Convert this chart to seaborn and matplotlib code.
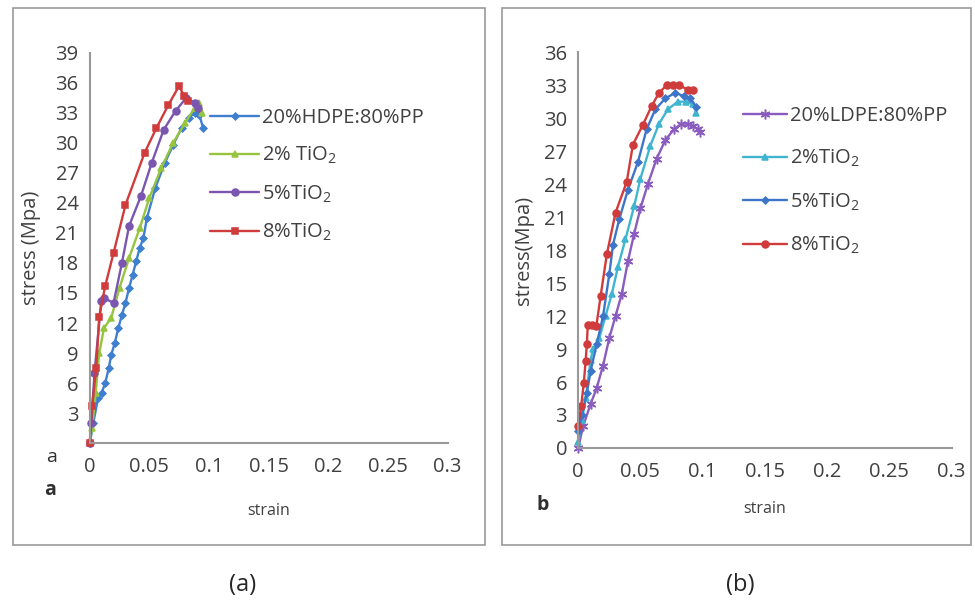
import numpy as np
import pandas as pd
import seaborn as sns
import matplotlib.pyplot as plt
from matplotlib.patches import Rectangle

# ---- panel (a): HDPE/PP blends ----
a_base_x = [0, 0.003, 0.007, 0.010, 0.013, 0.016, 0.018, 0.021, 0.024, 0.027, 0.030, 0.033,
            0.036, 0.039, 0.042, 0.045, 0.048, 0.055, 0.063, 0.070, 0.077, 0.083, 0.088, 0.092, 0.095]
a_base_y = [0, 2, 4.5, 5, 6, 7.5, 8.8, 10, 11.5, 12.8, 14, 15.5,
            16.8, 18.2, 19.5, 20.5, 22.5, 25.5, 28, 29.8, 31.5, 32.5, 33, 32.8, 31.5]
a_ti2_x = [0, 0.002, 0.005, 0.008, 0.012, 0.018, 0.025, 0.033, 0.042, 0.050, 0.060, 0.070, 0.080, 0.088, 0.092, 0.094]
a_ti2_y = [0, 1.5, 5, 9, 11.5, 12.5, 15.5, 18.5, 21.5, 24.5, 27.5, 30, 32, 33.5, 34, 33]
a_ti5_x = [0, 0.0014, 0.004, 0.0097, 0.012, 0.020, 0.027, 0.033, 0.043, 0.052, 0.062, 0.072, 0.081, 0.088, 0.091]
a_ti5_y = [0, 2, 7, 14.2, 14.5, 14, 18, 21.7, 24.7, 28, 31.3, 33.2, 34.5, 34, 33.5]
a_ti8_x = [0, 0.002, 0.0055, 0.008, 0.008, 0.013, 0.020, 0.030, 0.046, 0.056, 0.066, 0.075, 0.079, 0.082]
a_ti8_y = [0, 3.7, 7.5, 11.8, 13.5, 15.7, 19, 23.8, 29, 31.5, 33.8, 35.7, 34.7, 34.2]

# ---- panel (b): LDPE/PP blends ----
b_base_x = [0, 0.004, 0.010, 0.015, 0.020, 0.025, 0.030, 0.035, 0.040, 0.045, 0.050, 0.056,
            0.063, 0.070, 0.077, 0.083, 0.088, 0.092, 0.096, 0.098]
b_base_y = [0, 2, 4, 5.5, 7.5, 10, 12, 14, 17, 19.5, 21.8, 24,
            26.3, 28, 29, 29.5, 29.5, 29.3, 29, 28.7]
b_ti2_x = [0, 0.003, 0.006, 0.010, 0.012, 0.017, 0.022, 0.027, 0.032, 0.038, 0.045, 0.050,
           0.058, 0.065, 0.072, 0.080, 0.087, 0.092, 0.095]
b_ti2_y = [0.5, 2.5, 4.5, 8, 9, 10, 12, 14, 16.5, 19, 22, 24.5,
           27.5, 29.5, 30.8, 31.5, 31.5, 31.3, 30.5]
b_ti5_x = [0, 0.003, 0.007, 0.010, 0.015, 0.020, 0.025, 0.028, 0.033, 0.040, 0.048, 0.055,
           0.062, 0.070, 0.078, 0.085, 0.090, 0.095]
b_ti5_y = [1.5, 3, 5, 7, 9.5, 12, 15.8, 18.5, 20.8, 23.5, 26, 29,
           30.8, 31.8, 32.3, 32, 31.8, 31]
b_ti8_x = [0, 0.0024, 0.0045, 0.006, 0.007, 0.0077, 0.011, 0.0146, 0.018, 0.023, 0.030, 0.039,
           0.044, 0.052, 0.059, 0.065, 0.071, 0.076, 0.081, 0.088, 0.092]
b_ti8_y = [2, 3.8, 5.9, 7.9, 9.5, 11.2, 11.2, 11.1, 13.8, 17.6, 21.4, 24.2,
           27.6, 29.4, 31.1, 32.3, 33, 33, 33, 32.6, 32.6]

labels_a = ['20%HDPE:80%PP', '2% TiO$_2$', '5%TiO$_2$', '8%TiO$_2$']
labels_b = ['20%LDPE:80%PP', '2%TiO$_2$', '5%TiO$_2$', '8%TiO$_2$']

sns.set_style('white')
plt.rcParams['font.family'] = ['Open Sans', 'DejaVu Sans']
plt.rcParams['mathtext.default'] = 'regular'

fig = plt.figure(figsize=(9.75, 6.07), dpi=100)
ax1 = fig.add_axes([0.092, 0.270, 0.367, 0.643])
ax2 = fig.add_axes([0.593, 0.262, 0.383, 0.652])

asterisk = (6, 2, 0)

series_a = [
    (a_base_x, a_base_y, '#3f7fd0', 'D', 3.5),
    (a_ti2_x, a_ti2_y, '#96c43e', '^', 5),
    (a_ti5_x, a_ti5_y, '#7b56b0', 'o', 5),
    (a_ti8_x, a_ti8_y, '#d03b3b', 's', 4.5),
]
series_b = [
    (b_base_x, b_base_y, '#8a5cc0', asterisk, 7),
    (b_ti2_x, b_ti2_y, '#3fb5d0', '^', 5),
    (b_ti5_x, b_ti5_y, '#3f75c8', 'D', 3.5),
    (b_ti8_x, b_ti8_y, '#d03b3b', 'o', 5),
]

for ax, series, labels in [(ax1, series_a, labels_a), (ax2, series_b, labels_b)]:
    for (xs, ys, col, mk, ms), lab in zip(series, labels):
        d = pd.DataFrame({'strain': xs, 'stress': ys})
        sns.lineplot(data=d, x='strain', y='stress', ax=ax, sort=False, color=col,
                     marker=mk, markersize=ms, markeredgecolor=col, markeredgewidth=1.1,
                     linewidth=1.7, label=lab)

for ax in (ax1, ax2):
    ax.set_xlim(0, 0.3)
    ax.set_xticks([0, 0.05, 0.1, 0.15, 0.2, 0.25, 0.3])
    ax.set_xticklabels(['0', '0.05', '0.1', '0.15', '0.2', '0.25', '0.3'])
    for s in ['top', 'right']:
        ax.spines[s].set_visible(False)
    for s in ['left', 'bottom']:
        ax.spines[s].set_color('#999999')
        ax.spines[s].set_linewidth(1.5)
    ax.tick_params(axis='x', direction='in', length=5, color='#999999', labelsize=14.5,
                   labelcolor='#404040', pad=10)
    ax.tick_params(axis='y', direction='out', length=4, color='#999999', labelsize=14.5,
                   labelcolor='#404040', pad=4)
    for ln in ax.lines:
        ln.set_clip_on(False)

ax1.set_xlabel('strain', fontsize=11.5, color='#404040', labelpad=19)
ax2.set_xlabel('strain', fontsize=11.5, color='#404040', labelpad=14)

ax1.set_ylim(0, 39)
ax1.set_yticks(np.arange(3, 40, 3))
ax1.set_ylabel('stress (Mpa)', fontsize=14.5, color='#404040', labelpad=10)
ax2.set_ylim(0, 36)
ax2.set_yticks(np.arange(0, 37, 3))
ax2.set_ylabel('stress(Mpa)', fontsize=14.5, color='#404040', labelpad=7)

ax1.legend(loc='upper left', bbox_to_anchor=(0.315, 0.88), frameon=False, fontsize=14.5,
           handlelength=2.4, handletextpad=0.15, labelspacing=0.85, labelcolor='#404040',
           borderaxespad=0)
ax2.legend(loc='upper left', bbox_to_anchor=(0.42, 0.885), frameon=False, fontsize=14.5,
           handlelength=2.2, handletextpad=0.15, labelspacing=1.1, labelcolor='#404040',
           borderaxespad=0)

# panel letters and captions
fig.text(52 / 975, 1 - 457 / 607, 'a', fontsize=14, color='#303030', ha='center', va='center')
fig.text(50 / 975, 1 - 490 / 607, 'a', fontsize=14, fontweight='bold', color='#303030',
         ha='center', va='center')
fig.text(543 / 975, 1 - 505 / 607, 'b', fontsize=14, fontweight='bold', color='#303030',
         ha='center', va='center')
fig.text(243 / 975, 1 - 585 / 607, '(a)', fontsize=17, ha='center', va='center')
fig.text(740 / 975, 1 - 585 / 607, '(b)', fontsize=17, ha='center', va='center')

# outer frames around each chart
fig.add_artist(Rectangle((13 / 975, 1 - 545 / 607), (485 - 13) / 975, (545 - 8) / 607,
                         transform=fig.transFigure, fill=False, edgecolor='#999999', linewidth=1.2))
fig.add_artist(Rectangle((502 / 975, 1 - 545 / 607), (971 - 502) / 975, (545 - 8) / 607,
                         transform=fig.transFigure, fill=False, edgecolor='#999999', linewidth=1.2))

fig.savefig('out.png', dpi=100)
